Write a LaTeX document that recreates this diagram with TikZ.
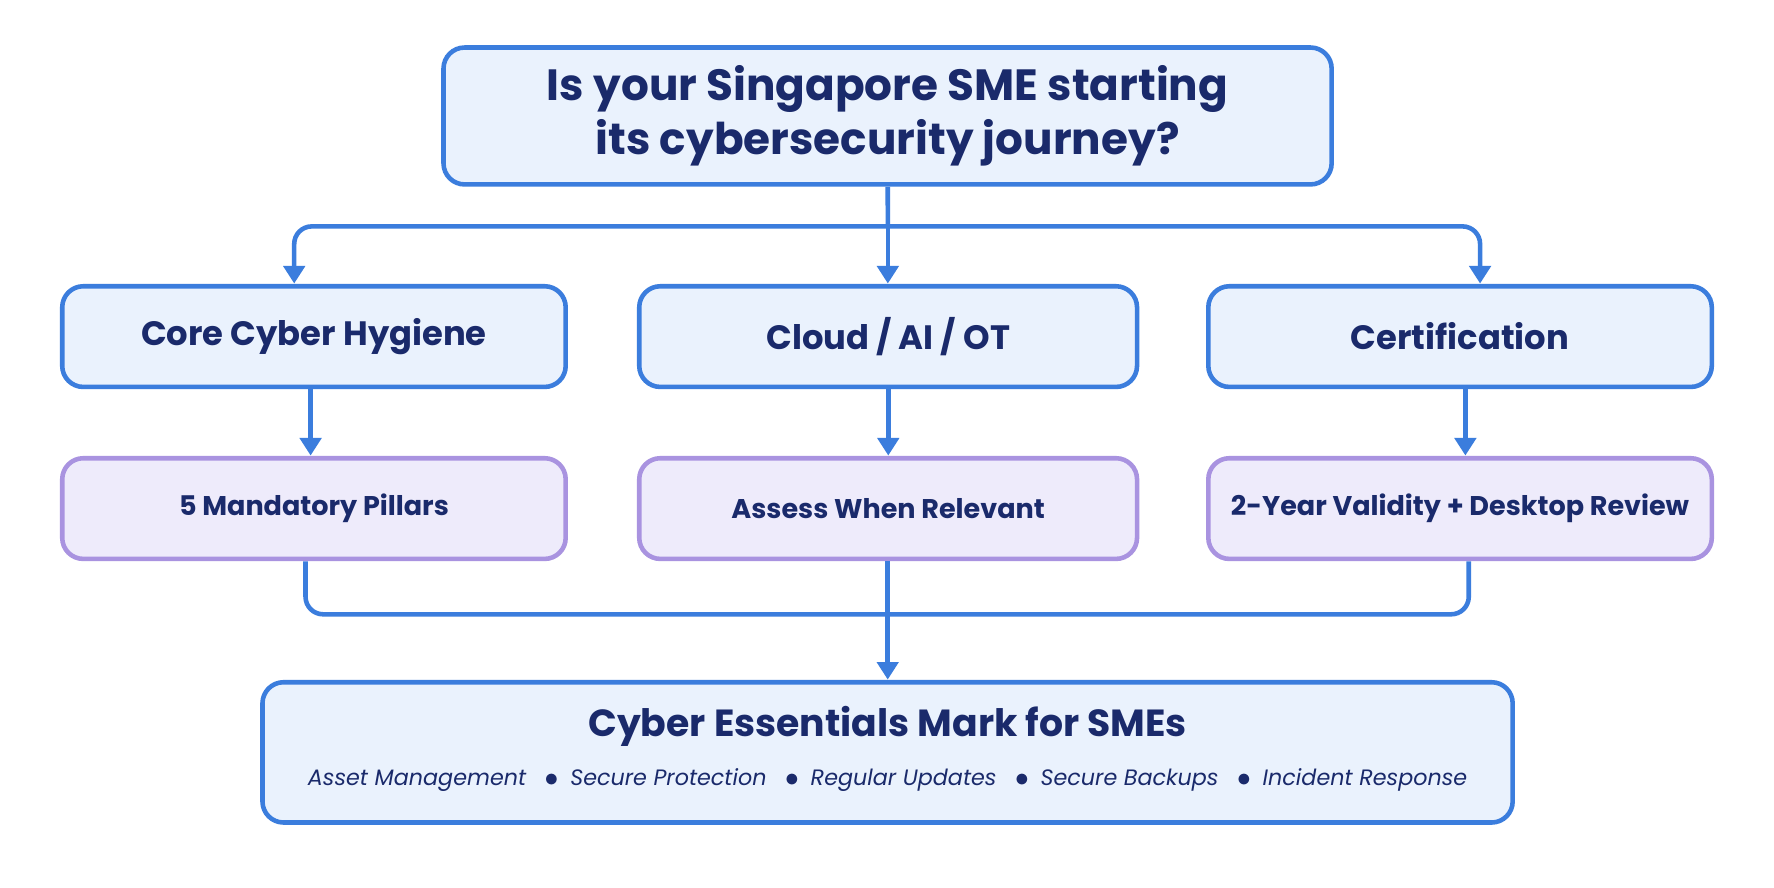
\documentclass[tikz,border=0pt]{standalone}
\usepackage{fontspec}
\setmainfont{Poppins}
\usetikzlibrary{arrows.meta,positioning,calc}
\definecolor{edgeblue}{HTML}{3B7DDD}
\definecolor{fillblue}{HTML}{EAF2FD}
\definecolor{edgeviolet}{HTML}{A993E0}
\definecolor{fillviolet}{HTML}{EEEBFB}
\definecolor{inknavy}{HTML}{1A2A6B}
\tikzset{
  stepbox/.style={draw=edgeblue, fill=fillblue, line width=1.3pt, rounded corners=6pt,
    text=inknavy, font=\bfseries\fontsize{8.5}{10}\selectfont, align=center},
  notebox/.style={draw=edgeviolet, fill=fillviolet, line width=1.3pt, rounded corners=6pt,
    text=inknavy, font=\bfseries\fontsize{6.8}{8}\selectfont, align=center,
    minimum width=4.45cm, minimum height=0.89cm},
  flow/.style={draw=edgeblue, line width=1.3pt, -{Triangle[length=5pt,width=6pt]}},
  link/.style={draw=edgeblue, line width=1.3pt, rounded corners=5pt}
}
\begin{document}
\begin{tikzpicture}[scale=1.1314, every node/.style={transform shape}]
  \path[use as bounding box, fill=white] (0,0) rectangle (15.68,7.84);
  % question
  \node[stepbox, minimum width=7.85cm, minimum height=1.21cm,
    font=\bfseries\fontsize{11}{13.5}\selectfont] (start) at (7.845,6.815)
    {Is your Singapore SME starting\\its cybersecurity journey?};
  % tracks
  \node[stepbox, minimum width=4.45cm, minimum height=0.89cm] (hygiene) at (2.775,4.865) {Core Cyber Hygiene};
  \node[stepbox, minimum width=4.4cm, minimum height=0.89cm] (cloud) at (7.85,4.865) {Cloud / AI / OT};
  \node[stepbox, minimum width=4.45cm, minimum height=0.89cm] (cert) at (12.905,4.865) {Certification};
  % notes
  \node[notebox] (pillars) at (2.775,3.345) {5 Mandatory Pillars};
  \node[notebox, minimum width=4.4cm] (assess) at (7.85,3.345) {Assess When Relevant};
  \node[notebox] (validity) at (12.905,3.345) {2-Year Validity + Desktop Review};
  % mark
  \node[stepbox, minimum width=11.05cm, minimum height=1.24cm] (mark) at (7.845,1.19) {};
  \node[text=inknavy, font=\bfseries\fontsize{9.5}{12}\selectfont] (marktitle) at (7.845,1.42) {Cyber Essentials Mark for SMEs};
  \node[text=inknavy, font=\itshape\fontsize{5.6}{7}\selectfont] (marklist) at (7.845,0.95)
    {Asset Management \enspace$\bullet$\enspace Secure Protection \enspace$\bullet$\enspace Regular Updates \enspace$\bullet$\enspace Secure Backups \enspace$\bullet$\enspace Incident Response};
  % connectors
  \coordinate (split) at ($(start.south)+(0,-0.35)$);
  \draw[link] (start.south) -- (split);
  \draw[flow, rounded corners=5pt] (split) -| ([xshift=-0.175cm]hygiene.north);
  \draw[flow, rounded corners=5pt] (split) -| ([xshift=0.175cm]cert.north);
  \draw[flow] (split) -- (cloud.north -| split);
  \draw[flow] ([xshift=-0.03cm]hygiene.south) -- ([xshift=-0.03cm]pillars.north);
  \draw[flow] (cloud.south) -- (assess.north);
  \draw[flow] ([xshift=0.045cm]cert.south) -- ([xshift=0.045cm]validity.north);
  \coordinate (merge) at (7.845,2.41);
  \draw[link] ([xshift=-0.075cm]pillars.south) |- (merge);
  \draw[link] ([xshift=0.075cm]validity.south) |- (merge);
  \draw[link] (assess.south -| merge) -- (merge);
  \draw[flow] (merge) -- (mark.north);
\end{tikzpicture}
\end{document}
